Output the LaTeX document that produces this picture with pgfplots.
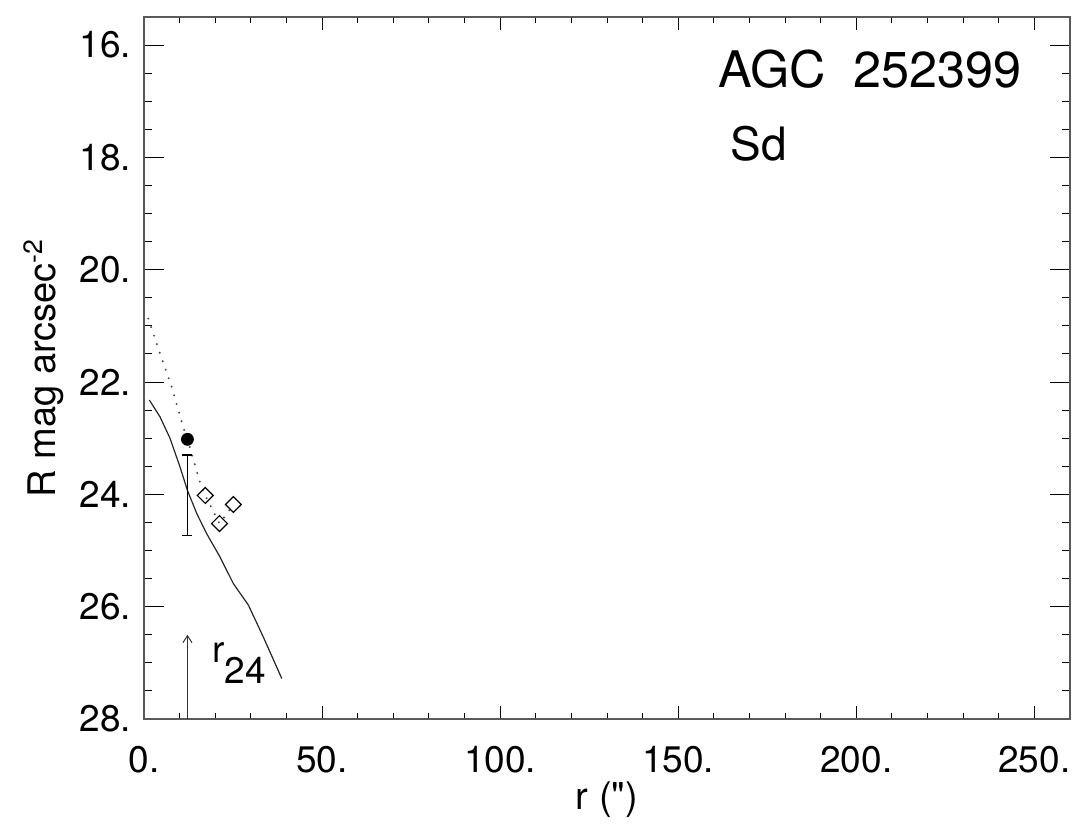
\documentclass[border=0pt]{standalone}
\usepackage{fontspec}
\setmainfont{TeX Gyre Heros}[Ligatures=TeXOff]
\usepackage{pgfplots}
\pgfplotsset{compat=1.18}
\usetikzlibrary{arrows.meta}
\begin{document}
\begin{tikzpicture}
\begin{axis}[
  scale only axis, width=463pt, height=351pt,
  xmin=0, xmax=260, ymin=15.5, ymax=28, y dir=reverse,
  xtick={0,50,...,250}, xticklabels={0.,50.,100.,150.,200.,250.},
  ytick={16,18,...,28}, yticklabels={16.,18.,20.,22.,24.,26.,28.},
  minor x tick num=4, minor y tick num=3,
  tick align=inside,
  xtick style={/pgfplots/major tick length=6.5pt,/pgfplots/minor tick length=3pt, black, line width=0.5pt},
  ytick style={/pgfplots/major tick length=10pt,/pgfplots/minor tick length=4pt, black, line width=0.5pt},
  axis line style={black!65, line width=0.6pt},
  /pgf/number format/assume math mode=true,
  tick label style={font=\fontsize{18.5}{20}\selectfont},
  xticklabel style={yshift=-10pt},
  yticklabel style={xshift=-3pt},
  xlabel={r (")},
  ylabel={R mag arcsec\textsuperscript{-2}},
  label style={font=\fontsize{19}{21}\selectfont},
  xlabel style={at={(axis description cs:0.5,-0.1296)}, anchor=base},
  ylabel style={at={(axis description cs:-0.1371,0.5)}, anchor=north},
]
\addplot[black!85, line width=0.6pt] coordinates {(1.5,22.32)(4.5,22.62)(7.3,23.0)(10.1,23.51)(12.2,23.93)(14.8,24.34)(17.6,24.70)(21.3,25.11)(25.1,25.59)(29.3,25.97)(33.5,26.54)(38.7,27.28)};
\addplot[black!70, line width=1.1pt, line cap=round, dash pattern=on 0pt off 4.5pt] coordinates {(1.2,20.87)(4.5,21.49)(7.8,22.09)(11.0,22.8)(12.2,23.02)(15.7,23.78)(17.2,24.02)(21.2,24.52)(25.1,24.18)};
\addplot[only marks, mark=*, mark size=3pt, black] coordinates {(12.2,23.02)};
\addplot[only marks, mark=square, mark size=2.8pt, black, mark options={rotate=45, line width=0.6pt, fill=white}] coordinates {(17.2,24.02)(21.2,24.52)(25.1,24.18)};
\addplot[draw=none, mark=none, error bars/.cd, y dir=both, y explicit,
  error bar style={draw=black, solid, line width=0.6pt},
  error mark options={rotate=90, mark size=2.5pt, line width=0.6pt, draw=black}] coordinates {(12.2,24.015) +- (0,0.715)};
\addplot[black!80, line width=0.5pt, -{Straight Barb[length=3.5pt,width=4.5pt]}] coordinates {(12.2,28)(12.2,26.5)};
\node[anchor=base west, inner sep=0, font=\fontsize{18.5}{20}\selectfont] at (axis cs:19.1,26.99) {r\raisebox{-10.5pt}{24}};
\node[anchor=base west, inner sep=0, font=\fontsize{25.2}{28}\selectfont] at (axis cs:161.2,16.75) {AGC\hspace{0.55em}252399};
\node[anchor=base west, inner sep=0, font=\fontsize{23}{25}\selectfont] at (axis cs:164.6,18.05) {Sd};
\coordinate (sw) at (axis cs:0,28);
\coordinate (ne) at (axis cs:260,15.5);
\end{axis}
\pgfresetboundingbox
\path[use as bounding box] ([shift={(-72pt,-54.5pt)}]sw) rectangle ([shift={(5.5pt,8.5pt)}]ne);
\end{tikzpicture}
\end{document}
